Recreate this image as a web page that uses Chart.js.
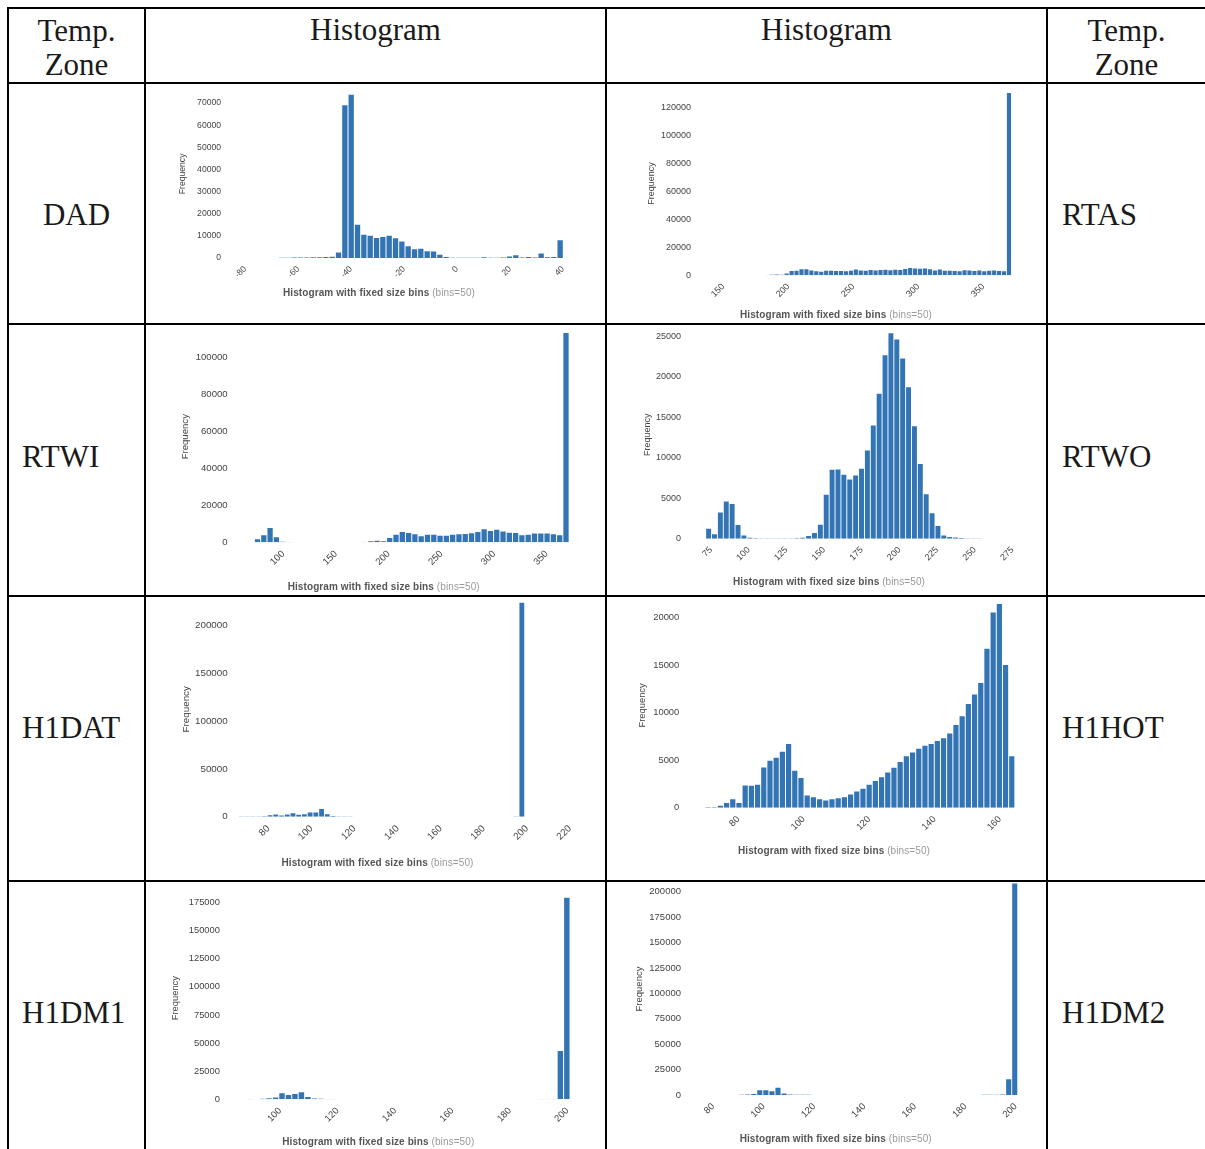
<!DOCTYPE html>
<html>
<head>
<meta charset="utf-8">
<script src="https://cdn.jsdelivr.net/npm/chart.js@4.4.0/dist/chart.umd.min.js"></script>
<style>
body{margin:0;background:#fff;width:1205px;height:1149px;overflow:hidden;position:relative;font-family:"Liberation Serif","Times New Roman",serif;}
.hl{position:absolute;background:#000;height:2px;left:7px;width:1198px}
.vl{position:absolute;background:#000;width:2px;top:7px;height:1142px}
.lbl{position:absolute;font-size:31px;line-height:34px;color:#1a1a1a;white-space:nowrap}
.box{position:absolute}
.xt{position:absolute;transform:translate(-50%,-50%);font-family:"Liberation Sans",Arial,sans-serif;font-size:10px;white-space:nowrap;color:#9a9a9a;letter-spacing:0.1px}
.xt b{color:#555}
</style>
</head>
<body>
<div class="hl" style="top:7px"></div>
<div class="hl" style="top:82px"></div>
<div class="hl" style="top:323px"></div>
<div class="hl" style="top:595px"></div>
<div class="hl" style="top:880px"></div>
<div class="vl" style="left:7px"></div>
<div class="vl" style="left:144px"></div>
<div class="vl" style="left:605px"></div>
<div class="vl" style="left:1046px"></div>

<div class="lbl" style="left:9px;width:135px;text-align:center;top:14px">Temp.<br>Zone</div>
<div class="lbl" style="left:146px;width:459px;text-align:center;top:13px">Histogram</div>
<div class="lbl" style="left:607px;width:439px;text-align:center;top:13px">Histogram</div>
<div class="lbl" style="left:1048px;width:157px;text-align:center;top:14px">Temp.<br>Zone</div>

<div class="lbl" style="left:9px;width:135px;text-align:center;top:198px">DAD</div>
<div class="lbl" style="left:22px;top:440px">RTWI</div>
<div class="lbl" style="left:22px;top:711px">H1DAT</div>
<div class="lbl" style="left:22px;top:996px">H1DM1</div>
<div class="lbl" style="left:1062px;top:198px">RTAS</div>
<div class="lbl" style="left:1062px;top:440px">RTWO</div>
<div class="lbl" style="left:1062px;top:711px">H1HOT</div>
<div class="lbl" style="left:1062px;top:996px">H1DM2</div>

<script>
// counts per bin (bins=50)
const dadRange = [-77.5, 42];
const dadCounts = [30, 10, 10, 20, 40, 120, 150, 180, 200, 250, 300, 350, 400, 600,
  2500, 69000, 73750, 15000, 10500, 10000, 9000, 9500, 10000, 8900, 7400, 5300, 3900, 4200, 3000, 2900, 1500, 400,
  150, 120, 100, 120, 150, 300, 150, 120, 200, 700, 1200, 200, 400, 250, 2000, 300, 400, 8000];
const dadXTicks = [-80, -60, -40, -20, 0, 20, 40];
const dadYTicks = [0, 10000, 20000, 30000, 40000, 50000, 60000, 70000];

const rtasRange = [185.5, 375.5];
const rtasCounts = [300, 400, 500, 400, 1200, 3000, 3300, 4300, 4300, 3500, 2800, 2600, 3200, 3200, 3100, 3000,
  2900, 3200, 4200, 3400, 3300, 3800, 3500, 3800, 3900, 3600, 4000, 3800, 4500, 5200, 4800, 4700, 4900, 4400,
  3400, 4200, 3300, 3200, 3000, 2800, 3600, 3500, 3100, 3400, 2900, 3300, 3500, 3000, 2800, 130000];
const rtasXTicks = [150, 200, 250, 300, 350];
const rtasYTicks = [0, 20000, 40000, 60000, 80000, 100000, 120000];

const rtwiRange = [77.3, 376];
const rtwiCounts = [1600, 3800, 7700, 2700, 300, 100, 60, 40, 30, 30, 20, 20, 20, 30, 30, 40, 80,
  200, 600, 800, 500, 2300, 4100, 5600, 5000, 4300, 3200, 4100, 4100, 3600, 3600, 4100, 4300, 4500, 4900,
  5600, 7000, 6100, 6800, 5800, 5200, 5000, 3800, 4100, 4700, 4700, 4700, 4300, 3800, 113000];
const rtwiXTicks = [100, 150, 200, 250, 300, 350];
const rtwiYTicks = [0, 20000, 40000, 60000, 80000, 100000];

const rtwoRange = [74.8, 269.8];
const rtwoCounts = [1240, 540, 3250, 4600, 4300, 1700, 400, 120, 60, 40, 30, 20, 20, 20, 30, 60, 120,
  330, 700, 1730, 5440, 8530, 8550, 7900, 7300, 7800, 8650, 10900, 14000, 17900, 22660, 25400, 24600,
  22250, 18700, 13900, 9230, 5500, 3130, 1570, 400, 200, 150, 80, 40, 20, 10, 5, 5, 2];
const rtwoXTicks = [75, 100, 125, 150, 175, 200, 225, 250, 275];
const rtwoYTicks = [0, 5000, 10000, 15000, 20000, 25000];

const h1datRange = [68.5, 201.3];
const h1datCounts = [100, 150, 200, 300, 500, 1500, 2400, 1200, 2200, 3500, 2000, 2500, 4500, 4500, 8000,
  2500, 700, 300, 150, 80, 60, 50, 40, 30, 30, 20, 20, 20, 20, 20, 20, 20, 20, 20, 20, 20, 20, 20, 20,
  20, 20, 20, 20, 30, 30, 40, 50, 60, 100, 224000];
const h1datXTicks = [80, 100, 120, 140, 160, 180, 200, 220];
const h1datYTicks = [0, 50000, 100000, 150000, 200000];

const h1hotRange = [71.3, 166.1];
const h1hotCounts = [50, 50, 200, 490, 875, 500, 2345, 2300, 2400, 4235, 4935, 5250, 5880, 6685, 3885, 3115,
  1295, 1100, 900, 750, 900, 1000, 1100, 1400, 1700, 2000, 2400, 2800, 3200, 3700, 4200, 4800, 5400, 5800,
  6200, 6500, 6700, 7000, 7300, 7800, 8700, 9600, 10900, 11900, 13100, 16700, 20500, 21400, 15000, 5400];
const h1hotXTicks = [80, 100, 120, 140, 160];
const h1hotYTicks = [0, 5000, 10000, 15000, 20000];

const h1dm1Range = [90, 202.7];
const h1dm1Counts = [300, 100, 600, 900, 1500, 5300, 3900, 4700, 6200, 2000, 800, 500, 300,
  200, 150, 150, 120, 100, 100, 100, 100, 100, 100, 100, 100, 100, 100, 100, 100, 100, 100, 100, 100,
  100, 100, 100, 100, 100, 100, 100, 100, 100, 100, 120, 150, 200, 250, 300, 43000, 179400];
const h1dm1XTicks = [100, 120, 140, 160, 180, 200];
const h1dm1YTicks = [0, 25000, 50000, 75000, 100000, 125000, 150000, 175000];

const h1dm2Range = [82.4, 202.8];
const h1dm2Counts = [60, 80, 100, 120, 200, 500, 1000, 4600, 4600, 3800, 7200, 1500, 500, 300,
  200, 150, 120, 100, 100, 100, 100, 100, 100, 100, 100, 100, 100, 100, 100, 100, 100, 100, 100,
  100, 100, 100, 100, 100, 100, 100, 100, 100, 100, 100, 150, 200, 300, 500, 15400, 208000];
const h1dm2XTicks = [80, 100, 120, 140, 160, 180, 200];
const h1dm2YTicks = [0, 25000, 50000, 75000, 100000, 125000, 150000, 175000, 200000];

const BAR = '#3274b4';
const TICK = '#444';
const SANS = "'Liberation Sans', Arial, sans-serif";

// where each histogram sits on the page: canvas box, plot area, axis limits
const panels = [
  {counts: dadCounts, range: dadRange, xTicks: dadXTicks, yTicks: dadYTicks,
   box: [147, 85, 457, 237], plot: [225, 89.7, 579.2, 258], xMin: -85.7, xMax: 48, yMax: 76000,
   font: 8.6, freqX: 183, title: [379, 292]},
  {counts: rtasCounts, range: rtasRange, xTicks: rtasXTicks, yTicks: rtasYTicks,
   box: [608, 85, 437, 237], plot: [695, 91.6, 1023.8, 275.3], xMin: 132.1, xMax: 385, yMax: 131000,
   font: 9, freqX: 652, title: [836, 313.7]},
  {counts: rtwiCounts, range: rtwiRange, xTicks: rtwiXTicks, yTicks: rtwiYTicks,
   box: [147, 325, 457, 269], plot: [231.7, 331.1, 574.4, 542.3], xMin: 55.8, xMax: 381, yMax: 114000,
   font: 9.6, freqX: 185.7, title: [383.7, 586.3]},
  {counts: rtwoCounts, range: rtwoRange, xTicks: rtwoXTicks, yTicks: rtwoYTicks,
   box: [608, 325, 437, 269], plot: [685, 330.7, 1016.6, 538.7], xMin: 61.1, xMax: 281, yMax: 25700,
   font: 9, freqX: 648, title: [829, 581.3]},
  {counts: h1datCounts, range: h1datRange, xTicks: h1datXTicks, yTicks: h1datYTicks,
   box: [147, 597, 457, 282], plot: [231.7, 601.8, 573.6, 816.7], xMin: 65.3, xMax: 224, yMax: 225000,
   font: 9.8, freqX: 186.7, title: [377.5, 861.7]},
  {counts: h1hotCounts, range: h1hotRange, xTicks: h1hotXTicks, yTicks: h1hotYTicks,
   box: [608, 597, 437, 282], plot: [683.3, 603.1, 1017.8, 807.7], xMin: 64.7, xMax: 167, yMax: 21500,
   font: 9.4, freqX: 642.7, title: [834, 850]},
  {counts: h1dm1Counts, range: h1dm1Range, xTicks: h1dm1XTicks, yTicks: h1dm1YTicks,
   box: [147, 882, 457, 267], plot: [224, 897, 573.8, 1099.3], xMin: 82.2, xMax: 204, yMax: 180000,
   font: 9.4, freqX: 175, title: [378.3, 1141]},
  {counts: h1dm2Counts, range: h1dm2Range, xTicks: h1dm2XTicks, yTicks: h1dm2YTicks,
   box: [608, 882, 437, 267], plot: [685, 883, 1020.8, 1095], xMin: 70.8, xMax: 204, yMax: 208500,
   font: 9.5, freqX: 639.3, title: [835.7, 1138.3]}
];

function drawPanel(p) {
  const [bx, by, bw, bh] = p.box;
  const [pl, pt, pr, pb] = p.plot;
  let wrap = document.createElement('div');
  wrap.className = 'box';
  wrap.style.left = bx + 'px';
  wrap.style.top = by + 'px';
  let cv = document.createElement('canvas');
  cv.width = bw;
  cv.height = bh;
  cv.style.width = bw + 'px';
  cv.style.height = bh + 'px';
  wrap.appendChild(cv);
  document.body.appendChild(wrap);

  // fixed size bins between data min and max
  let binW = (p.range[1] - p.range[0]) / p.counts.length;
  let points = p.counts.map((c, i) => ({x: p.range[0] + binW * (i + 0.5), y: c}));
  let lh = p.font * 1.2;
  let tickFont = {family: SANS, size: p.font};

  new Chart(cv, {
    type: 'bar',
    data: {
      datasets: [{
        data: points,
        backgroundColor: BAR,
        borderWidth: 0,
        barPercentage: 0.84,
        categoryPercentage: 1
      }]
    },
    options: {
      responsive: false,
      animation: false,
      devicePixelRatio: 1,
      layout: {padding: {left: 0, top: pt - by, right: bx + bw - pr, bottom: 0}},
      plugins: {legend: {display: false}, tooltip: {enabled: false}},
      scales: {
        x: {
          type: 'linear',
          min: p.xMin,
          max: p.xMax,
          offset: false,
          grid: {display: false, drawTicks: false},
          border: {display: false},
          ticks: {font: tickFont, color: TICK, minRotation: 45, maxRotation: 45, padding: 6,
            labelOffset: 5, autoSkip: false, callback: v => String(v)},
          afterBuildTicks: s => { s.ticks = p.xTicks.map(v => ({value: v})); },
          afterFit: s => { s.height = by + bh - pb; s.paddingLeft = 0; s.paddingRight = 0; }
        },
        y: {
          min: 0,
          max: p.yMax,
          grid: {display: false, drawTicks: false},
          border: {display: false},
          ticks: {font: tickFont, color: TICK, padding: 4, autoSkip: false, callback: v => String(v)},
          afterBuildTicks: s => { s.ticks = p.yTicks.map(v => ({value: v})); },
          title: {display: true, text: 'Frequency', color: TICK, font: tickFont,
            padding: {top: p.freqX - bx - lh / 2, bottom: 0}},
          afterFit: s => { s.width = pl - bx; s.paddingTop = 0; s.paddingBottom = 0; }
        }
      }
    }
  });

  let t = document.createElement('div');
  t.className = 'xt';
  t.style.left = p.title[0] + 'px';
  t.style.top = p.title[1] + 'px';
  t.innerHTML = '<b>Histogram with fixed size bins</b> (bins=50)';
  document.body.appendChild(t);
}

panels.forEach(drawPanel);
</script>
</body>
</html>
